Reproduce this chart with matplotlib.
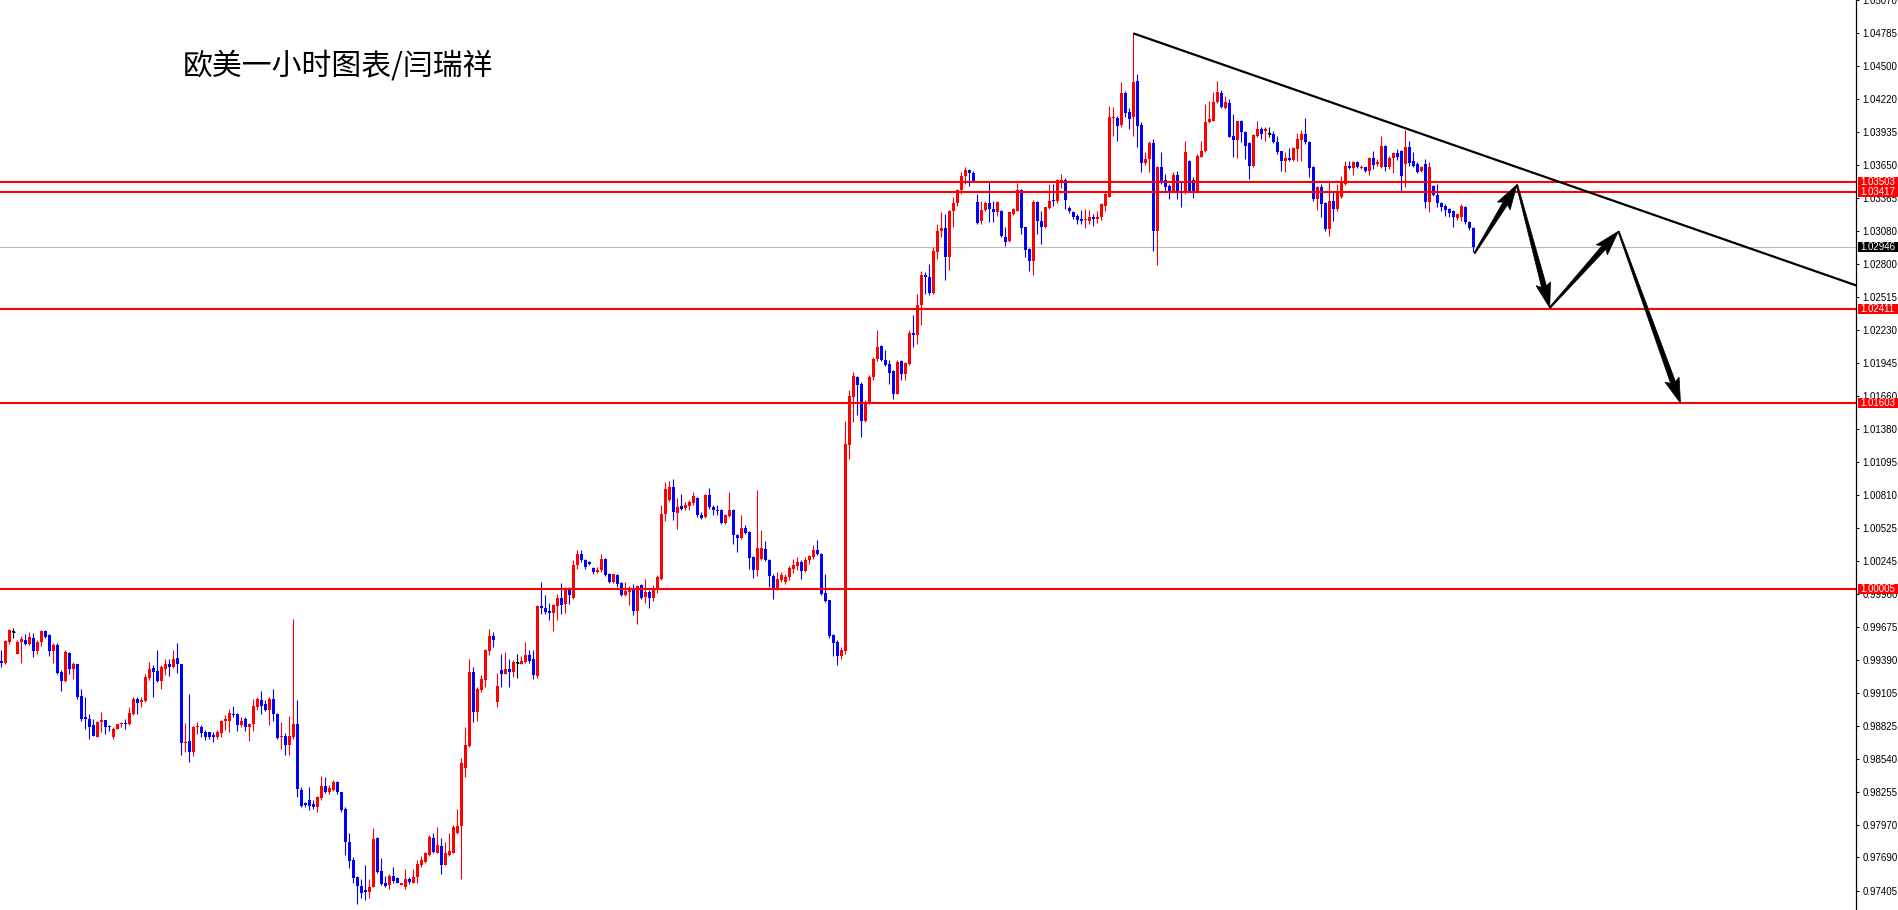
import matplotlib
matplotlib.use('Agg')
import matplotlib.pyplot as plt
import numpy as np
from matplotlib.patches import Rectangle, Polygon

# ---------------- data (prices in 1e-5 units) ----------------
opens = [
99379,99365,99546,99632,99445,99546,99560,99526,99583,99468,
99546,99637,99606,99468,99517,99288,99210,99451,99311,99354,
99078,98901,98886,98829,98729,98858,98872,98823,98729,98794,
98837,98843,98837,98929,99053,99030,99038,99239,99322,99293,
99210,99316,99351,99331,99405,99354,98671,98691,98600,98809,
98815,98772,98766,98743,98723,98763,98863,98866,98929,98923,
98829,98878,98815,98837,98987,99044,99009,98958,99053,98929,
98723,98734,98657,98729,98837,98275,98155,98189,98149,98121,
98198,98307,98255,98275,98336,98250,98103,97825,97668,97519,
97444,97410,97395,97438,97854,97576,97467,97453,97530,97510,
97453,97438,97504,97473,97519,97625,97653,97711,97854,97731,
97788,97625,97711,97731,97897,97960,98456,98648,99288,98943,
99130,99216,99468,99594,99029,99302,99273,99316,99288,99365,
99359,99374,99431,99394,99250,99852,99841,99812,99795,99852,
99927,99875,100004,99927,100205,100300,100254,100234,100182,100148,
100162,100262,100133,100062,100119,100053,99947,99976,100004,99812,
100033,99933,99976,99927,99990,100090,100644,100770,100879,100655,
100712,100701,100712,100741,100787,100635,100621,100807,100707,100684,
100684,100569,100626,100684,100463,100443,100529,100492,100277,100168,
100262,100348,100254,100110,100004,100082,100062,100105,100176,100196,
100234,100156,100248,100277,100340,100305,99967,99904,99603,99545,
99422,99470,101237,101652,101824,101767,101446,101595,101824,101982,
102088,101974,101933,101876,101681,101962,101853,101939,102203,102183,
102441,102707,102690,102547,102900,103080,103109,102862,103252,103321,
103436,103559,103608,103579,103330,103172,103264,103321,103272,103244,
103258,103034,102994,103229,103258,103436,103115,102928,102822,103330,
103166,103115,103281,103350,103338,103510,103522,103281,103244,103215,
103186,103178,103172,103201,103186,103201,103301,103378,104055,104055,
103998,104267,104104,104061,104376,103998,103665,103702,103837,103080,
103631,103522,103473,103430,103567,103430,103407,103688,103522,103424,
103722,103768,104018,104032,104190,104267,104141,104181,103903,103866,
104026,103932,103837,103645,103903,103960,103940,103917,103917,103846,
103768,103688,103711,103694,103788,103866,103917,103846,103631,103358,
103458,103321,103100,103344,103272,103373,103487,103645,103625,103674,
103625,103631,103596,103711,103659,103631,103817,103631,103711,103751,
103768,103659,103808,103682,103659,103596,103659,103330,103473,103396,
103321,103301,103272,103252,103195,103201,103292,103158,103109,
]
highs = [
99480,99566,99660,99669,99560,99594,99612,99632,99626,99560,
99646,99646,99617,99537,99537,99302,99474,99460,99374,99359,
99144,99067,98929,98886,98866,98944,98872,98829,98815,98843,
98858,98886,98987,99067,99067,99073,99268,99374,99345,99474,
99345,99402,99402,99474,99537,99359,98849,99096,98820,98852,
98829,98786,98772,98772,98786,98872,98915,98964,98992,98935,
98895,98895,98849,99058,99067,99124,99044,99073,99136,98935,
98858,98763,98906,99746,99044,98298,98169,98298,98184,98218,
98390,98384,98313,98356,98347,98255,98126,97897,97691,97530,
97501,97622,97501,97940,97868,97682,97530,97547,97610,97524,
97473,97587,97519,97587,97668,97702,97739,97883,97897,97949,
97854,97825,97903,97969,98103,98550,98814,99394,99331,99158,
99259,99488,99660,99632,99279,99439,99460,99394,99388,99439,
99422,99546,99474,99474,99861,100062,99947,99881,99875,99956,
100053,100019,100019,100254,100334,100334,100262,100242,100191,100191,
100300,100268,100139,100133,100133,100062,100062,100024,100047,100033,
100047,100090,99990,100033,100119,100721,100922,100930,100950,100787,
100821,100750,100764,100836,100793,100664,100821,100873,100721,100721,
100692,100649,100836,100692,100472,100635,100549,100500,100282,100856,
100512,100414,100262,100133,100148,100148,100133,100196,100262,100277,
100248,100277,100291,100377,100420,100311,100127,99910,99617,99566,
99502,101450,101710,101867,101830,101781,101624,101839,101996,102226,
102097,102054,101974,101882,101968,101974,101954,102226,102355,102541,
102736,102728,102799,102948,103138,103244,103229,103264,103378,103444,
103588,103631,103616,103596,103401,103344,103344,103502,103344,103344,
103264,103115,103249,103281,103493,103444,103120,102937,103350,103344,
103258,103292,103487,103487,103530,103573,103539,103301,103258,103224,
103264,103272,103264,103224,103258,103321,103430,104161,104152,104075,
104362,104284,104141,104783,104433,104018,103760,103860,103874,103645,
103760,103573,103487,103588,103602,103502,103860,103694,103545,103745,
103854,104175,104204,104276,104376,104296,104247,104218,104089,104032,
104038,103946,103846,103917,104032,103975,103975,103975,103946,103903,
103774,103760,103797,103808,103923,103952,104055,103854,103645,103473,
103487,103329,103510,103430,103487,103559,103688,103688,103688,103682,
103653,103636,103722,103774,103702,103903,103825,103731,103760,103788,
103780,103952,103854,103760,103674,103645,103702,103674,103482,103487,
103330,103315,103281,103264,103229,103315,103301,103172,103115,
]
lows = [
99331,99359,99531,99583,99440,99365,99517,99517,99417,99445,
99508,99583,99425,99365,99268,99124,99202,99268,99230,99058,
98866,98792,98714,98734,98723,98772,98757,98780,98714,98792,
98815,98800,98829,98915,98923,98981,99030,99216,99073,99202,
99144,99259,99250,99322,99279,98571,98600,98514,98562,98757,
98723,98700,98706,98686,98714,98729,98786,98772,98901,98780,
98815,98780,98694,98780,98958,98929,98952,98829,98866,98706,
98620,98571,98571,98714,98212,98121,98121,98098,98103,98083,
98189,98241,98235,98264,98235,98083,97711,97596,97467,97289,
97338,97324,97338,97433,97559,97453,97433,97415,97473,97467,
97450,97415,97461,97467,97467,97610,97639,97702,97731,97725,
97547,97625,97702,97725,97891,97501,98384,98642,98857,98866,
99115,99158,99431,99503,98986,99158,99267,99158,99245,99239,
99353,99365,99365,99230,99239,99789,99784,99738,99640,99738,
99784,99795,99875,99918,100176,100234,100176,100205,100128,100139,
100148,100110,100053,100053,100019,99938,99938,99861,99775,99703,
99918,99881,99841,99898,99967,100082,100586,100758,100592,100520,
100684,100684,100684,100721,100621,100606,100615,100692,100635,100635,
100558,100563,100621,100391,100320,100434,100472,100176,100099,100110,
100254,100242,100019,99918,99990,100062,100041,100082,100139,100168,
100090,100148,100219,100262,100291,99947,99890,99583,99422,99345,
99402,99440,101122,101437,101495,101308,101437,101589,101796,101962,
101962,101916,101767,101638,101675,101796,101796,101925,102082,102111,
102269,102541,102535,102541,102842,103029,102656,102748,103115,103301,
103401,103487,103473,103510,103138,103138,103252,103158,103158,103215,
103034,102957,102986,103223,103252,103057,102857,102736,102707,103057,
102966,103109,103272,103301,103321,103453,103272,103235,103186,103138,
103138,103109,103138,103129,103149,103178,103258,103373,103903,103860,
103980,104066,103960,103903,103803,103588,103653,103588,102914,102785,
103487,103415,103358,103415,103358,103286,103401,103415,103367,103415,
103717,103759,104009,104026,104181,104141,104132,103889,103717,103711,
103846,103702,103530,103636,103894,103874,103860,103889,103837,103745,
103602,103588,103688,103688,103688,103688,103831,103545,103344,103264,
103200,103086,103043,103172,103258,103367,103481,103616,103567,103625,
103616,103588,103567,103616,103645,103625,103596,103616,103579,103694,
103416,103459,103645,103631,103579,103588,103281,103244,103387,103292,
103258,103215,103201,103120,103178,103172,103143,103092,102900,
]
closes = [
99365,99554,99652,99632,99548,99569,99526,99589,99468,99546,
99640,99589,99468,99523,99279,99210,99460,99311,99354,99067,
98883,98883,98815,98734,98858,98872,98815,98815,98800,98837,
98849,98837,98935,99058,99021,99044,99245,99316,99288,99207,
99331,99354,99331,99397,99351,98671,98686,98600,98815,98823,
98763,98729,98723,98729,98769,98866,98878,98935,98915,98829,
98866,98815,98843,98992,99050,98992,98958,99055,98929,98720,
98734,98657,98734,98837,98276,98132,98138,98132,98126,98207,
98304,98255,98290,98341,98255,98098,97825,97662,97516,97444,
97381,97395,97438,97845,97567,97461,97444,97530,97490,97473,
97467,97501,97476,97524,97633,97668,97731,97863,97739,97797,
97625,97731,97748,97954,97960,98499,98657,99288,98943,99144,
99222,99474,99594,99566,99164,99273,99316,99288,99374,99365,
99382,99431,99382,99259,99852,99841,99804,99798,99861,99927,
99861,100004,99947,100205,100305,100254,100191,100214,100148,100168,
100262,100119,100062,100127,100041,99947,99981,99990,99812,100024,
99927,99976,99927,100004,100105,100649,100864,100879,100664,100707,
100692,100721,100750,100798,100635,100615,100807,100707,100684,100672,
100569,100635,100684,100463,100443,100529,100483,100271,100168,100357,
100357,100254,100110,100004,100090,100119,100105,100185,100205,100234,
100156,100254,100282,100334,100305,99961,99898,99594,99537,99422,
99480,101251,101658,101830,101753,101446,101601,101824,101982,102082,
101968,101925,101859,101681,101954,101853,101945,102203,102183,102441,
102699,102690,102547,102914,103086,103109,102862,103252,103321,103436,
103559,103608,103579,103516,103149,103264,103321,103272,103244,103330,
103043,102986,103244,103272,103436,103109,102920,102822,103330,103166,
103115,103287,103344,103338,103522,103522,103350,103252,103206,103178,
103172,103186,103201,103186,103201,103310,103400,104061,104066,103989,
104267,104095,104046,104362,103989,103665,103702,103837,103080,103631,
103516,103464,103430,103567,103424,103415,103760,103430,103430,103731,
103768,104018,104046,104190,104276,104147,104190,103894,103866,104026,
103932,103817,103645,103911,103960,103917,103960,103917,103846,103760,
103688,103711,103694,103797,103874,103917,103846,103625,103358,103458,
103315,103100,103344,103272,103415,103493,103645,103625,103674,103636,
103636,103596,103711,103653,103674,103817,103631,103711,103751,103722,
103559,103808,103665,103645,103588,103636,103330,103636,103396,103321,
103292,103264,103235,103201,103224,103301,103158,103109,102946,
]

# axis tick values / labels (right price scale)
tick_labels = ["1.05070", "1.04785", "1.04500", "1.04220", "1.03935", "1.03650",
               "1.03365", "1.03080", "1.02800", "1.02515", "1.02230", "1.01945",
               "1.01660", "1.01380", "1.01095", "1.00810", "1.00525", "1.00245",
               "0.99960", "0.99675", "0.99390", "0.99105", "0.98825", "0.98540",
               "0.98255", "0.97970", "0.97690", "0.97405"]
tick_values = [float(t) for t in tick_labels]

# horizontal support / resistance levels
red_levels = [1.03503, 1.03417, 1.02411, 1.01603, 1.00005]
current_price = 1.02946

# trendline (bar index, price)
trend_x = [283, 464]
trend_y = [1.04783, 1.02610]

# projected path arrows (bar index, price)
arrow_x = [368.3, 378.9, 387.1, 404.3, 419.8]
arrow_y = [1.0289, 1.0348, 1.0242, 1.0308, 1.0160]

title = "欧美一小时图表/闫瑞祥"

# ---------------- figure ----------------
W, H, DPI = 1898, 910, 100
fig = plt.figure(figsize=(W / DPI, H / DPI), dpi=DPI)
fig.patch.set_facecolor('white')
AX_RIGHT_PX = 1856
ax = fig.add_axes([0, 0, AX_RIGHT_PX / W, 1])
ax.set_facecolor('white')

n = min(len(opens), len(highs), len(lows), len(closes))
o = np.array(opens[:n]) / 1e5
h = np.array(highs[:n]) / 1e5
l = np.array(lows[:n]) / 1e5
c = np.array(closes[:n]) / 1e5
x = np.arange(n)

ax.set_xlim(-0.33, -0.33 + AX_RIGHT_PX / 4.0)
ax.set_ylim(0.97238, 1.05070)

RED, BLUE = '#FF0000', '#0000FF'
col = np.where(c > o, RED, np.where(c < o, BLUE, '#000000'))
ax.vlines(x, l, h, colors=col, lw=0.8, zorder=2)
bottom = np.minimum(o, c)
height = np.maximum(np.abs(c - o), 0.00009)
ax.bar(x, height, bottom=bottom, width=0.72, color=col, lw=0, zorder=2)
doji = c == o
ax.hlines(o[doji], x[doji] - 0.45, x[doji] + 0.45, colors='black', lw=0.8, zorder=2)

# levels
for lv in red_levels:
    ax.axhline(lv, color=RED, lw=1.5, zorder=3)
ax.axhline(current_price, color='#BDBDBD', lw=0.8, zorder=1)

# trendline
ax.plot(trend_x, trend_y, color='black', lw=1.6, zorder=4, solid_capstyle='butt')

# axes styling
for s in ['left', 'top', 'bottom']:
    ax.spines[s].set_visible(False)
ax.spines['right'].set_color('black')
ax.spines['right'].set_linewidth(0.9)
ax.set_xticks([])
ax.yaxis.tick_right()
ax.set_yticks(tick_values)
ax.set_yticklabels(tick_labels)
ax.tick_params(axis='y', direction='out', length=2.5, width=0.7, pad=2,
               labelsize=7, colors='black')
for t in ax.get_yticklabels():
    t.set_fontfamily('Liberation Sans')

# arrows (tapered shafts with filled heads), built in pixel space from data
def tapered(p0, p1, hl=22, hw=7.5, t0=0.7, t1=2.6):
    p0 = np.asarray(p0, float); p1 = np.asarray(p1, float)
    d = p1 - p0
    L = np.hypot(d[0], d[1])
    u = d / L
    nv = np.array([-u[1], u[0]])
    base = p1 - u * hl
    return [p0 + nv * t0, base + nv * t1, base - u * 3 + nv * hw, p1,
            base - u * 3 - nv * hw, base - nv * t1, p0 - nv * t0]

pts = ax.transData.transform(np.column_stack([arrow_x, arrow_y]))
for i in range(len(pts) - 1):
    poly = tapered(pts[i], pts[i + 1])
    poly = [(px / W, py / H) for px, py in poly]
    fig.add_artist(Polygon(poly, closed=True, transform=fig.transFigure,
                           facecolor='black', edgecolor='black', lw=0.5, zorder=5))

# price label boxes on the right scale
def price_box(val, face):
    ypix = ax.transData.transform((0, val))[1]
    fig.add_artist(Rectangle((1858 / W, (ypix - 5) / H), 40 / W, 10 / H,
                             transform=fig.transFigure, facecolor=face,
                             edgecolor='none', zorder=6))
    fig.text(1860.5 / W, ypix / H, f"{val:.5f}", color='white', fontsize=7,
             family='Liberation Sans', va='center', ha='left', zorder=7)

for lv in red_levels:
    price_box(lv, RED)
price_box(current_price, 'black')

# title
fig.text(183 / W, 1 - 66 / H, title, fontsize=21.5,
         family=['Noto Sans CJK SC', 'DejaVu Sans'], va='center', ha='left',
         color='black')

fig.savefig('out.png', dpi=DPI, facecolor='white')
